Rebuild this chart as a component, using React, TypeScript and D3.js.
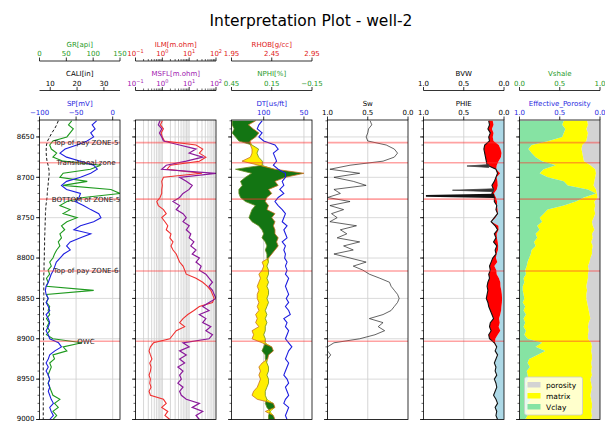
import React from "react";
import * as d3 from "d3";

// ---------------- data ----------------
const DEPTH = [
  8630, 8635, 8640, 8645, 8650, 8655, 8660, 8665, 8670, 8675,
  8680, 8685, 8690, 8695, 8700, 8705, 8710, 8715, 8720, 8725,
  8730, 8735, 8740, 8745, 8750, 8755, 8760, 8765, 8770, 8775,
  8780, 8785, 8790, 8795, 8800, 8805, 8810, 8815, 8820, 8825,
  8830, 8835, 8840, 8845, 8850, 8855, 8860, 8865, 8870, 8875,
  8880, 8885, 8890, 8895, 8900, 8905, 8910, 8915, 8920, 8925,
  8930, 8935, 8940, 8945, 8950, 8955, 8960, 8965, 8970, 8975,
  8980, 8985, 8990, 8995, 9000,
];

const GR = [
  60, 54, 63, 57, 51, 25, 19, 22, 32, 25,
  44, 114, 95, 44, 38, 89, 44, 133, 150, 82,
  51, 38, 57, 44, 70, 51, 41, 47, 38, 41,
  35, 38, 32, 28, 25, 19, 22, 16, 19, 13,
  16, 13, 101, 13, 16, 13, 19, 16, 19, 13,
  18, 14, 19, 13, 25, 79, 44, 51, 25, 28,
  19, 22, 19, 16, 19, 16, 19, 22, 25, 38,
  28, 35, 25, 32, 25,
];

const SP = [
  -22, -28, -24, -30, -26, -35, -49, -65, -72, -63,
  -44, -26, -21, -30, -44, -63, -70, -63, -44, -46,
  -51, -40, -30, -19, -16, -26, -44, -53, -30, -44,
  -58, -63, -58, -67, -72, -77, -79, -81, -84, -86,
  -88, -91, -92, -91, -88, -91, -88, -86, -91, -88,
  -86, -88, -91, -88, -86, -74, -70, -79, -86, -88,
  -91, -88, -91, -88, -86, -88, -86, -88, -86, -84,
  -81, -86, -84, -81, -86,
];

const CALI = [
  13.0, 12.4, 11.6, 10.6, 9.8, 9.0, 8.6, 8.5, 8.5, 8.6,
  8.8, 9.2, 9.5, 9.6, 9.5, 9.3, 9.2, 9.0, 8.9, 8.8,
  8.6, 8.4, 8.3, 8.2, 8.2, 8.1, 8.1, 8.0, 8.0, 7.9,
  7.9, 7.9, 7.8, 7.8, 7.8, 7.7, 7.7, 7.7, 7.6, 7.6,
  7.6, 7.6, 7.6, 7.6, 7.6, 7.5, 7.5, 7.5, 7.5, 7.5,
  7.5, 7.5, 7.5, 7.5, 7.5, 7.5, 7.5, 7.5, 7.5, 7.5,
  7.4, 7.4, 7.4, 7.4, 7.4, 7.4, 7.4, 7.4, 7.4, 7.4,
  7.4, 7.4, 7.4, 7.4, 7.4,
];

const ILM = [
  1.0, 0.85, 1.1, 0.9, 1.0, 1.2, 18, 32, 24, 42,
  24, 2.0, 1.5, 30, 1.1, 0.95, 1.0, 0.95, 0.95, 0.82,
  0.62, 0.71, 1.1, 1.4, 0.95, 1.25, 1.6, 1.4, 2.1, 1.9,
  2.5, 2.1, 2.5, 3.3, 3.8, 4.4, 5.9, 6.8, 7.8, 18,
  32, 48, 64, 74, 85, 74, 24, 15, 8.9, 5.9,
  4.4, 6.8, 3.3, 2.5, 1.9, 0.47, 0.36, 0.32, 0.36, 0.41,
  0.34, 0.38, 0.36, 0.32, 0.36, 0.34, 0.38, 0.32, 0.36, 1.1,
  1.4, 0.95, 1.6, 1.25, 1.9,
];

const MSFL = [
  0.82, 0.71, 0.96, 0.78, 0.95, 1.1, 4.4, 18, 10, 32,
  7.8, 1.4, 0.95, 100, 4.4, 7.8, 13, 10, 5.9, 4.4,
  2.5, 4.4, 3.3, 5.9, 7.8, 5.9, 10, 7.8, 11.5, 10,
  15, 11.5, 18, 13, 24, 18, 28, 24, 42, 55,
  74, 55, 74, 85, 100, 55, 32, 55, 24, 42,
  32, 64, 42, 74, 55, 5.9, 10, 4.4, 7.8, 4.4,
  6.8, 3.8, 5.9, 4.4, 5.1, 3.8, 5.9, 4.4, 5.1, 7.8,
  24, 13, 32, 18, 24,
];

const RHOB = [
  2.25, 2.16, 2.22, 2.29, 2.25, 2.18, 2.185, 2.205, 2.205, 2.185,
  2.08, 2.29, 2.49, 2.85, 2.62, 2.49, 2.53, 2.41, 2.45, 2.39,
  2.37, 2.41, 2.39, 2.49, 2.45, 2.49, 2.47, 2.49, 2.49, 2.53,
  2.51, 2.53, 2.49, 2.45, 2.41, 2.33, 2.35, 2.33, 2.29, 2.31,
  2.29, 2.27, 2.29, 2.27, 2.27, 2.29, 2.27, 2.29, 2.25, 2.27,
  2.25, 2.29, 2.205, 2.225, 2.205, 2.33, 2.45, 2.47, 2.41, 2.40,
  2.33, 2.29, 2.31, 2.29, 2.31, 2.29, 2.27, 2.225, 2.205, 2.27,
  2.47, 2.49, 2.37, 2.47, 2.49,
];

const NPHI = [
  0.445, 0.445, 0.43, 0.445, 0.42, 0.395, 0.297, 0.248, 0.26, 0.248,
  0.22, 0.22, 0.42, 0.30, 0.346, 0.383, 0.37, 0.395, 0.395, 0.383,
  0.346, 0.272, 0.297, 0.309, 0.32, 0.297, 0.248, 0.223, 0.21, 0.223,
  0.198, 0.186, 0.198, 0.186, 0.186, 0.174, 0.186, 0.174, 0.174, 0.186,
  0.174, 0.186, 0.174, 0.174, 0.186, 0.174, 0.186, 0.198, 0.186, 0.198,
  0.186, 0.198, 0.198, 0.21, 0.198, 0.198, 0.21, 0.223, 0.198, 0.198,
  0.186, 0.174, 0.174, 0.186, 0.174, 0.174, 0.186, 0.198, 0.198, 0.186,
  0.198, 0.186, 0.162, 0.174, 0.174,
];

const DT = [
  102, 106, 108, 102, 106, 100, 86, 82, 88, 86,
  84, 88, 82, 73, 73, 77, 75, 80, 75, 82,
  86, 82, 77, 73, 75, 77, 71, 75, 73, 71,
  77, 73, 75, 73, 74, 71, 73, 71, 73, 69,
  71, 73, 71, 69, 72, 69, 73, 69, 67, 75,
  71, 73, 69, 71, 73, 69, 65, 69, 71, 73,
  69, 71, 73, 75, 71, 69, 73, 71, 69, 73,
  75, 69, 71, 73, 71,
];

const SW = [
  0.47, 0.45, 0.49, 0.5, 0.52, 0.5, 0.27, 0.17, 0.13, 0.17,
  0.31, 0.72, 0.97, 0.6, 0.92, 0.68, 0.52, 0.92, 0.84, 1.0,
  0.72, 0.97, 0.8, 0.95, 0.88, 0.97, 0.64, 0.84, 0.76, 0.88,
  0.6, 0.8, 0.68, 0.92, 0.72, 0.52, 0.68, 0.56, 0.48, 0.35,
  0.23, 0.21, 0.17, 0.13, 0.11, 0.13, 0.17, 0.21, 0.31, 0.48,
  0.31, 0.37, 0.29, 0.41, 0.6, 0.92, 1.0, 1.0, 0.96, 1.0,
  1.0, 1.0, 1.0, 1.0, 1.0, 1.0, 1.0, 1.0, 1.0, 1.0,
  1.0, 1.0, 1.0, 1.0, 1.0,
];

const PHIE = [
  0.19, 0.18, 0.2, 0.17, 0.19, 0.18, 0.24, 0.25, 0.24, 0.23,
  0.22, 0.21, 0.1, 0.08, 0.1, 0.12, 0.15, 0.13, 0.15, 0.12,
  0.12, 0.09, 0.1, 0.08, 0.12, 0.16, 0.11, 0.08, 0.12, 0.1,
  0.13, 0.09, 0.11, 0.1, 0.14, 0.16, 0.18, 0.17, 0.19, 0.18,
  0.2, 0.21, 0.2, 0.21, 0.22, 0.2, 0.19, 0.17, 0.15, 0.13,
  0.17, 0.18, 0.16, 0.19, 0.18, 0.12, 0.09, 0.11, 0.08, 0.1,
  0.12, 0.1, 0.11, 0.09, 0.12, 0.1, 0.09, 0.11, 0.13, 0.1,
  0.08, 0.11, 0.09, 0.1, 0.08,
];

// narrow single-sample PHIE spikes
const PHIE_SPIKE_DEPTHS = [8686, 8716, 8723];
const PHIE_SPIKE_VALUES = [0.46, 0.64, 0.97];

const BVW = [
  0.14, 0.13, 0.15, 0.13, 0.14, 0.13, 0.065, 0.043, 0.031, 0.039,
  0.068, 0.09, 0.097, 0.048, 0.092, 0.082, 0.078, 0.09, 0.126, 0.1,
  0.086, 0.087, 0.08, 0.076, 0.106, 0.155, 0.07, 0.067, 0.091, 0.088,
  0.078, 0.072, 0.075, 0.092, 0.1, 0.083, 0.12, 0.095, 0.091, 0.063,
  0.046, 0.044, 0.034, 0.027, 0.024, 0.026, 0.032, 0.036, 0.047, 0.062,
  0.053, 0.067, 0.046, 0.078, 0.108, 0.11, 0.09, 0.11, 0.077, 0.1,
  0.12, 0.1, 0.11, 0.09, 0.12, 0.1, 0.09, 0.11, 0.13, 0.1,
  0.08, 0.11, 0.09, 0.1, 0.08,
];

const VSHALE = [
  0.55, 0.53, 0.57, 0.55, 0.53, 0.36, 0.15, 0.11, 0.15, 0.2,
  0.28, 0.45, 0.3, 0.25, 0.35, 0.55, 0.6, 0.85, 0.95, 0.8,
  0.7, 0.55, 0.35, 0.3, 0.25, 0.28, 0.22, 0.25, 0.2, 0.22,
  0.18, 0.2, 0.15, 0.14, 0.12, 0.1, 0.09, 0.07, 0.08, 0.05,
  0.06, 0.04, 0.04, 0.05, 0.06, 0.04, 0.07, 0.05, 0.08, 0.05,
  0.07, 0.05, 0.08, 0.06, 0.1, 0.28, 0.2, 0.32, 0.22, 0.12,
  0.1, 0.13, 0.09, 0.1, 0.11, 0.08, 0.1, 0.09, 0.11, 0.14,
  0.1, 0.12, 0.08, 0.1, 0.07,
];

const EFF_POROSITY = [
  0.16, 0.15, 0.17, 0.15, 0.16, 0.17, 0.22, 0.23, 0.22, 0.21,
  0.2, 0.12, 0.06, 0.05, 0.06, 0.07, 0.08, 0.05, 0.04, 0.03,
  0.07, 0.06, 0.07, 0.06, 0.08, 0.1, 0.09, 0.07, 0.1, 0.09,
  0.11, 0.09, 0.1, 0.1, 0.12, 0.13, 0.15, 0.14, 0.15, 0.15,
  0.16, 0.17, 0.16, 0.17, 0.17, 0.16, 0.15, 0.14, 0.13, 0.12,
  0.14, 0.15, 0.14, 0.15, 0.15, 0.11, 0.1, 0.11, 0.1, 0.1,
  0.11, 0.1, 0.11, 0.1, 0.12, 0.11, 0.1, 0.11, 0.12, 0.11,
  0.1, 0.1, 0.11, 0.1, 0.11,
];

const ZONE_DEPTHS = [8657, 8682, 8727, 8816, 8903];
const ZONE_NAMES = ["Top of pay ZONE-5", "Transitional zone", "BOTTOM of ZONE-5", "Top of pay ZONE-6", "OWC"];

const DEPTH_TICKS = [8650, 8700, 8750, 8800, 8850, 8900, 8950, 9000];
const TITLE = "Interpretation Plot - well-2";
const LEGEND_LABELS = ["porosity", "matrix", "Vclay"];

// ---------------- layout ----------------
const FONT = "DejaVu Sans, Verdana, sans-serif";
const TOP = 120;
const BOTTOM = 419.5;
const TRACK_X = [39.5, 135.5, 231.5, 327.5, 423.5, 519.5];
const TW = 80.5;
const ROW_Y = [61, 90.5, 120];
const FS = 7;

const yScale = d3.scaleLinear().domain([8629, 9000]).range([TOP, BOTTOM]);
const Y = (i: number) => yScale(DEPTH[i]);

const C_GREEN = "#1f9a1f";
const C_PURPLE = "#8b1a9b";

type AxisSpec = {
  row: number;
  domain: [number, number];
  log?: boolean;
  ticks: number[];
  labels: string[];
  color: string;
  title: string;
};

function mkScale(spec: { domain: [number, number]; log?: boolean }, x0: number) {
  return spec.log
    ? d3.scaleLog().domain(spec.domain).range([x0, x0 + TW])
    : d3.scaleLinear().domain(spec.domain).range([x0, x0 + TW]);
}

const LOG_MINOR = [0.2, 0.3, 0.4, 0.5, 0.6, 0.7, 0.8, 0.9, 2, 3, 4, 5, 6, 7, 8, 9, 20, 30, 40, 50, 60, 70, 80, 90];

function HeaderAxis({ spec, x0 }: { spec: AxisSpec; x0: number }) {
  const ly = ROW_Y[spec.row];
  const sc: any = mkScale(spec, x0);
  return (
    <g>
      {spec.row < 2 && <line x1={x0} x2={x0 + TW} y1={ly} y2={ly} stroke="#000" strokeWidth={0.8} />}
      {spec.log &&
        LOG_MINOR.map((v) => (
          <line key={"m" + v} x1={sc(v)} x2={sc(v)} y1={ly} y2={ly - 2} stroke="#000" strokeWidth={0.6} />
        ))}
      {spec.ticks.map((v, i) => (
        <g key={i}>
          <line x1={sc(v)} x2={sc(v)} y1={ly} y2={ly - 3.5} stroke="#000" strokeWidth={0.8} />
          {spec.log ? (
            <text x={sc(v)} y={ly - 5} textAnchor="middle" fontSize={FS} fill={spec.color} fontFamily={FONT}>
              10<tspan dy={-3} fontSize={5}>{spec.labels[i]}</tspan>
            </text>
          ) : (
            <text x={sc(v)} y={ly - 5} textAnchor="middle" fontSize={FS} fill={spec.color} fontFamily={FONT}>
              {spec.labels[i]}
            </text>
          )}
        </g>
      ))}
      <text x={x0 + TW / 2} y={ly - 14.5} textAnchor="middle" fontSize={FS} fill={spec.color} fontFamily={FONT}>
        {spec.title}
      </text>
    </g>
  );
}

const HEADERS: AxisSpec[][] = [
  [
    { row: 0, domain: [0, 150], ticks: [0, 50, 100, 150], labels: ["0", "50", "100", "150"], color: C_GREEN, title: "GR[api]" },
    { row: 1, domain: [6, 36], ticks: [10, 20, 30], labels: ["10", "20", "30"], color: "#000", title: "CALI[in]" },
    { row: 2, domain: [-100, 10], ticks: [-100, -50, 0], labels: ["\u2212100", "\u221250", "0"], color: "#1f1fe0", title: "SP[mV]" },
  ],
  [
    { row: 0, domain: [0.1, 100], log: true, ticks: [0.1, 1, 10, 100], labels: ["\u22121", "0", "1", "2"], color: "#e02020", title: "ILM[m.ohm]" },
    { row: 1, domain: [0.1, 100], log: true, ticks: [0.1, 1, 10, 100], labels: ["\u22121", "0", "1", "2"], color: "#a020b0", title: "MSFL[m.ohm]" },
  ],
  [
    { row: 0, domain: [1.95, 2.95], ticks: [1.95, 2.45, 2.95], labels: ["1.95", "2.45", "2.95"], color: "#e02020", title: "RHOB[g/cc]" },
    { row: 1, domain: [0.45, -0.15], ticks: [0.45, 0.15, -0.15], labels: ["0.45", "0.15", "\u22120.15"], color: C_GREEN, title: "NPHI[%]" },
    { row: 2, domain: [140, 40], ticks: [100, 50], labels: ["100", "50"], color: "#1f1fe0", title: "DT[us/ft]" },
  ],
  [{ row: 2, domain: [1, 0], ticks: [1, 0.5, 0], labels: ["1.0", "0.5", "0.0"], color: "#000", title: "Sw" }],
  [
    { row: 1, domain: [1, 0], ticks: [1, 0.5, 0], labels: ["1.0", "0.5", "0.0"], color: "#000", title: "BVW" },
    { row: 2, domain: [1, 0], ticks: [1, 0.5, 0], labels: ["1.0", "0.5", "0.0"], color: "#000", title: "PHIE" },
  ],
  [
    { row: 1, domain: [0, 1], ticks: [0, 0.5, 1], labels: ["0.0", "0.5", "1.0"], color: C_GREEN, title: "Vshale" },
    { row: 2, domain: [1, 0], ticks: [1, 0.5, 0], labels: ["1.0", "0.5", "0.0"], color: "#1f1fe0", title: "Effective_Porosity" },
  ],
];

function lineOf(xs: (i: number) => number) {
  return d3
    .line<number>()
    .x((_, i) => xs(i))
    .y((_, i) => Y(i))(DEPTH) as string;
}

function areaOf(x0: (i: number) => number, x1: (i: number) => number) {
  return d3
    .area<number>()
    .y((_, i) => Y(i))
    .x0((_, i) => x0(i))
    .x1((_, i) => x1(i))(DEPTH) as string;
}

function TrackFrame({ idx, gridX }: { idx: number; gridX: number[] }) {
  const x0 = TRACK_X[idx];
  return (
    <g>
      {gridX.map((gx, i) => (
        <line key={"gx" + i} x1={gx} x2={gx} y1={TOP} y2={BOTTOM} stroke="#c4c4c4" strokeWidth={0.7} />
      ))}
      {DEPTH_TICKS.map((d) => (
        <line key={"gy" + d} x1={x0} x2={x0 + TW} y1={yScale(d)} y2={yScale(d)} stroke="#d0d0d0" strokeWidth={0.8} />
      ))}
    </g>
  );
}

function TrackOverlay({ idx }: { idx: number }) {
  const x0 = TRACK_X[idx];
  const minor = d3.range(8630, 9001, 10);
  return (
    <g>
      {ZONE_DEPTHS.map((d, i) => (
        <line key={"z" + i} x1={x0} x2={x0 + TW} y1={yScale(d)} y2={yScale(d)} stroke="#ff3030" strokeOpacity={0.45} strokeWidth={1.6} />
      ))}
      <rect x={x0} y={TOP} width={TW} height={BOTTOM - TOP} fill="none" stroke="#000" strokeWidth={0.8} />
      {minor.map((d) => (
        <line key={"mt" + d} x1={x0} x2={x0 - 2} y1={yScale(d)} y2={yScale(d)} stroke="#000" strokeWidth={0.6} />
      ))}
      {DEPTH_TICKS.map((d) => (
        <line key={"Mt" + d} x1={x0} x2={x0 - 3.5} y1={yScale(d)} y2={yScale(d)} stroke="#000" strokeWidth={0.8} />
      ))}
      {idx === 0 &&
        DEPTH_TICKS.map((d) => (
          <text
            key={"yl" + d}
            x={x0 - 5}
            y={Math.min(yScale(d) + 2.3, 420.5)}
            textAnchor="end"
            fontSize={FS}
            fontFamily={FONT}
            fill="#000"
          >
            {d}
          </text>
        ))}
    </g>
  );
}

export default function App() {
  // Track 1 scales
  const t1 = TRACK_X[0];
  const grX = d3.scaleLinear().domain([0, 150]).range([t1, t1 + TW]);
  const caliX = d3.scaleLinear().domain([6, 36]).range([t1, t1 + TW]);
  const spX = d3.scaleLinear().domain([-100, 10]).range([t1, t1 + TW]);
  // Track 2
  const t2 = TRACK_X[1];
  const resX = d3.scaleLog().domain([0.1, 100]).range([t2, t2 + TW]);
  const logGrid: number[] = [];
  [0.1, 1, 10].forEach((dec) => [1, 2, 3, 4, 5, 6, 7, 8, 9].forEach((m) => logGrid.push(dec * m)));
  // Track 3
  const t3 = TRACK_X[2];
  const rhobX = d3.scaleLinear().domain([1.95, 2.95]).range([t3, t3 + TW]);
  const nphiX = d3.scaleLinear().domain([0.45, -0.15]).range([t3, t3 + TW]);
  const dtX = d3.scaleLinear().domain([140, 40]).range([t3, t3 + TW]);
  // Track 4
  const t4 = TRACK_X[3];
  const swX = d3.scaleLinear().domain([1, 0]).range([t4, t4 + TW]);
  // Track 5
  const t5 = TRACK_X[4];
  const phiX = d3.scaleLinear().domain([1, 0]).range([t5, t5 + TW]);
  // Track 6
  const t6 = TRACK_X[5];
  const vshX = d3.scaleLinear().domain([0, 1]).range([t6, t6 + TW]);
  const porX = d3.scaleLinear().domain([1, 0]).range([t6, t6 + TW]);

  const legendColors = ["#d3d3d3", "#ffff00", "#86e3a3"];

  const phieAt = (d: number) => {
    const j = d3.bisectLeft(DEPTH, d);
    const a = Math.max(0, j - 1);
    const b = Math.min(DEPTH.length - 1, j);
    if (a === b) return PHIE[a];
    const t = (d - DEPTH[a]) / (DEPTH[b] - DEPTH[a]);
    return PHIE[a] + t * (PHIE[b] - PHIE[a]);
  };

  return (
    <svg
      width={605}
      height={422}
      viewBox="0 0 605 422"
      style={{ position: "absolute", left: 0, top: 0, background: "#fff" }}
      fontFamily={FONT}
    >
      <defs>
        {TRACK_X.map((x, i) => (
          <clipPath id={"clip" + i} key={i}>
            <rect x={x} y={TOP} width={TW} height={BOTTOM - TOP} />
          </clipPath>
        ))}
      </defs>
      <rect x={0} y={0} width={605} height={422} fill="#fff" />
      <text x={311} y={25.5} textAnchor="middle" fontSize={15.5} fontFamily={FONT} fill="#000">
        {TITLE}
      </text>

      {HEADERS.map((specs, ti) => specs.map((s, si) => <HeaderAxis key={ti + "-" + si} spec={s} x0={TRACK_X[ti]} />))}

      {/* Track 1 */}
      <TrackFrame idx={0} gridX={[spX(-50), spX(0)]} />
      <g clipPath="url(#clip0)">
        <path d={lineOf((i) => caliX(CALI[i]))} fill="none" stroke="#000" strokeWidth={0.9} strokeDasharray="3,2" />
        <path d={lineOf((i) => grX(GR[i]))} fill="none" stroke={C_GREEN} strokeWidth={1.1} />
        <path d={lineOf((i) => spX(SP[i]))} fill="none" stroke="#1f1fe0" strokeWidth={1.1} />
      </g>

      {/* Track 2 */}
      <TrackFrame idx={1} gridX={logGrid.map((v) => resX(v))} />
      <g clipPath="url(#clip1)">
        <path d={lineOf((i) => resX(ILM[i]))} fill="none" stroke="#f03030" strokeWidth={1.1} />
        <path d={lineOf((i) => resX(MSFL[i]))} fill="none" stroke={C_PURPLE} strokeWidth={1.2} />
      </g>

      {/* Track 3 */}
      <TrackFrame idx={2} gridX={[dtX(100), dtX(50)]} />
      <g clipPath="url(#clip2)">
        <path
          d={areaOf((i) => nphiX(NPHI[i]), (i) => Math.max(nphiX(NPHI[i]), rhobX(RHOB[i])))}
          fill="#137513"
        />
        <path
          d={areaOf((i) => rhobX(RHOB[i]), (i) => Math.max(rhobX(RHOB[i]), nphiX(NPHI[i])))}
          fill="#ffee00"
        />
        <path d={lineOf((i) => nphiX(NPHI[i]))} fill="none" stroke="#6b8e23" strokeWidth={0.8} />
        <path d={lineOf((i) => rhobX(RHOB[i]))} fill="none" stroke="#c87020" strokeWidth={0.8} />
        <path d={lineOf((i) => dtX(DT[i]))} fill="none" stroke="#1f1fe0" strokeWidth={1.1} />
      </g>

      {/* Track 4 */}
      <TrackFrame idx={3} gridX={[swX(0.5)]} />
      <g clipPath="url(#clip3)">
        <path d={lineOf((i) => swX(SW[i]))} fill="none" stroke="#222" strokeWidth={0.7} />
      </g>

      {/* Track 5 */}
      <TrackFrame idx={4} gridX={[phiX(0.5)]} />
      <g clipPath="url(#clip4)">
        <path d={areaOf((i) => phiX(BVW[i]), () => phiX(0))} fill="#add8e6" />
        <path d={areaOf((i) => phiX(PHIE[i]), (i) => Math.max(phiX(PHIE[i]), phiX(BVW[i])))} fill="#ff0000" />
        <path d={lineOf((i) => phiX(PHIE[i]))} fill="none" stroke="#111" strokeWidth={1.1} />
        {PHIE_SPIKE_DEPTHS.map((d, k) => {
          const base = phiX(phieAt(d));
          const yy = yScale(d);
          const tip = phiX(PHIE_SPIKE_VALUES[k]);
          return (
            <g key={"sp" + k}>
              <path
                d={`M${base},${yy - 1.4}L${tip},${yy}L${base},${yy + 1.4}Z`}
                fill={k === 2 ? "#111" : "#333"}
                stroke={k === 2 ? "#111" : "#444"}
                strokeWidth={k === 2 ? 1.6 : 0.8}
              />
            </g>
          );
        })}
      </g>

      {/* Track 6 */}
      <TrackFrame idx={5} gridX={[]} />
      <g clipPath="url(#clip5)">
        <path d={areaOf((i) => porX(EFF_POROSITY[i]), () => porX(0))} fill={legendColors[0]} />
        <path
          d={areaOf((i) => vshX(VSHALE[i]), (i) => Math.max(vshX(VSHALE[i]), porX(EFF_POROSITY[i])))}
          fill={legendColors[1]}
        />
        <path d={areaOf(() => vshX(0), (i) => vshX(VSHALE[i]))} fill={legendColors[2]} />
      </g>

      {TRACK_X.map((_, i) => (
        <TrackOverlay key={"ov" + i} idx={i} />
      ))}

      {/* zone labels */}
      {ZONE_DEPTHS.map((d, i) => (
        <text key={"zl" + i} x={86} y={yScale(d) + 2.5} textAnchor="middle" fontSize={FS} fontFamily={FONT} fill="#222">
          {ZONE_NAMES[i]}
        </text>
      ))}

      {/* legend */}
      <g>
        <rect x={524.5} y={377} width={58} height={38} rx={2} fill="#fff" fillOpacity={0.8} stroke="#ccc" strokeWidth={0.8} />
        {LEGEND_LABELS.map((lab, i) => (
          <g key={lab}>
            <rect x={527.5} y={382 + i * 11} width={13} height={5.5} fill={legendColors[i]} />
            <text x={546} y={387.5 + i * 11} fontSize={7.5} fontFamily={FONT} fill="#000">
              {lab}
            </text>
          </g>
        ))}
      </g>
    </svg>
  );
}
